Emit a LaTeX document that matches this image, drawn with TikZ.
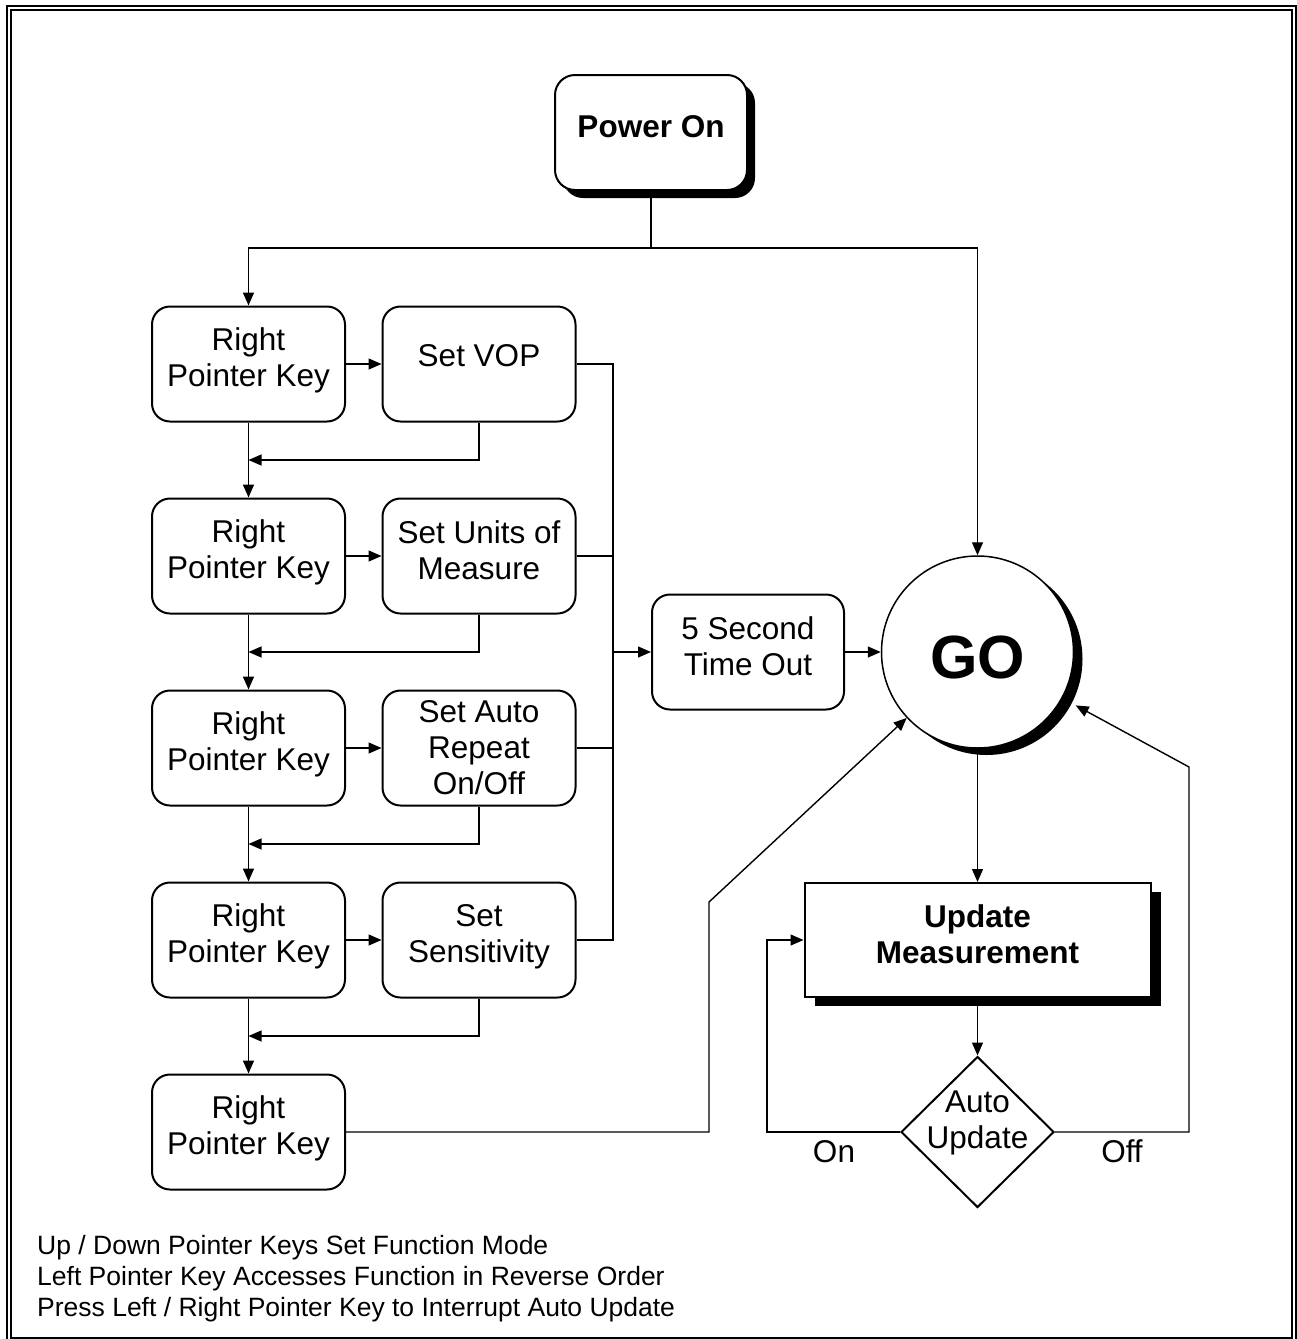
\documentclass[tikz,border=0pt]{standalone}
\usepackage{fontspec}
\setmainfont{Liberation Sans}
\usetikzlibrary{arrows.meta,shapes.geometric,shadows,calc}
\newcommand\bxf{\fontsize{31.5}{36}\selectfont}
\newcommand\ntf{\fontsize{26.5}{31}\selectfont}
\newcommand\gof{\fontsize{61}{70}\selectfont\bfseries}
\begin{document}
\begin{tikzpicture}[x=1pt,y=-1pt,
  conn/.style={line width=1.4pt},
  arr/.style={conn,-{Triangle[length=13pt,width=11pt]}},
  rbox/.style={draw,line width=2pt,rounded corners=18pt,minimum width=193pt,minimum height=115pt,inner sep=0pt,fill=white},
  lbl/.style={font=\bxf,align=center,inner sep=0pt},
  blackshadow/.style={drop shadow={shadow xshift=#1,shadow yshift=-#1,opacity=1,fill=black}},
]
\useasboundingbox (0,0) rectangle (1297,1339);
\draw[line width=2.5pt] (7,6) rectangle (1296,1345);
\draw[line width=2.5pt] (11,10) rectangle (1292,1338);

% Power On
\node[rbox,rounded corners=20pt,minimum width=192pt,blackshadow=8pt] (pwr) at (651,132.5) {};
\node[lbl,font=\bxf\bfseries] (pwrt) at ([yshift=6pt]pwr.center) {Power On};

% GO
\node[circle,draw,line width=1.5pt,minimum size=192pt,inner sep=0pt,fill=white,
      drop shadow={shadow xshift=9pt,shadow yshift=-7pt,opacity=1,fill=black}] (go) at (977.5,652) {};
\node[inner sep=0pt,font=\gof] (got) at ([yshift=-5pt]go.center) {GO};

% left column
\foreach \i/\y in {1/364,2/556,3/748,4/940,5/1132}{
  \node[rbox] (r\i) at (248.5,\y) {};
  \node[lbl] (r\i t) at ([yshift=4pt]r\i.center) {Right\\Pointer Key};
}
\foreach \i/\y in {1/364,2/556,3/748,4/940}{
  \node[rbox] (s\i) at (479,\y) {};
}
\node[lbl] (s1t) at ([yshift=8pt]s1.center) {Set VOP};
\node[lbl] (s2t) at ([yshift=6pt]s2.center) {Set Units of\\Measure};
\node[lbl] (s3t) at ([yshift=0pt]s3.center) {Set Auto\\Repeat\\On/Off};
\node[lbl] (s4t) at ([yshift=3pt]s4.center) {Set\\Sensitivity};

% 5 second
\node[rbox,minimum width=192pt] (t5) at (748,652) {};
\node[lbl] (t5t) at ([yshift=6pt]t5.center) {5 Second\\Time Out};

% update measurement
\node[draw,line width=2pt,minimum width=346pt,minimum height=114pt,inner sep=0pt,fill=white,
      drop shadow={shadow xshift=10pt,shadow yshift=-9pt,opacity=1,fill=black}] (upd) at (977.5,940) {};
\node[lbl,font=\bxf\bfseries] (updt) at ([yshift=6pt]upd.center) {Update\\Measurement};

% diamond
\node[draw,diamond,line width=2pt,minimum width=153pt,minimum height=151pt,inner sep=0pt,fill=white] (dia) at (977.5,1132) {};
\node[lbl] (diat) at ([yshift=9pt]dia.center) {Auto\\Update};

% connectors
\coordinate (j0) at (651,248);
\draw[conn] (pwr.south) -- (j0);
\draw[arr] (j0) -| (r1.north);
\draw[arr] (j0) -| (go.north);

\foreach \i/\j in {1/2,2/3,3/4,4/5}{
  \draw[arr] (r\i.south) -- (r\j.north);
  \draw[arr] (s\i.south) |- ($(r\i.south)!0.5!(r\j.north)$);
}
\foreach \i in {1,2,3,4}{
  \draw[arr] (r\i.east) -- (s\i.west);
}
\coordinate (b1) at (613,364);
\draw[conn] (s1.east) -- (b1) -- (b1 |- s4.east) -- (s4.east);
\draw[conn] (s2.east) -- (s2.east -| b1);
\draw[conn] (s3.east) -- (s3.east -| b1);
\draw[arr] (t5.west -| b1) -- (t5.west);
\draw[arr] (t5.east) -- (go.west);

\coordinate (k1) at (709,1132);
\coordinate (k2) at (709,902);
\draw[arr] (r5.east) -- (k1) -- (k2) -- (go);

\draw[arr] (go.south) -- (upd.north);
\draw[arr] (upd.south) -- (dia.north);

\coordinate (m1) at (767,1132);
\coordinate (m2) at (767,940);
\draw[arr] (dia.west) -- (m1) -- (m2) -- (upd.west);

\coordinate (n1) at (1189,1132);
\coordinate (n2) at (1189,767);
\coordinate (n3) at ($(n2)!129pt!(go.center)$);
\draw[arr] (dia.east) -- (n1) -- (n2) -- (n3);

\node[font=\bxf,anchor=base,inner sep=0pt] (on) at (834,1162) {On};
\node[font=\bxf,anchor=base,inner sep=0pt] (off) at (1122,1162) {Off};

% notes
\node[font=\ntf,anchor=base west,inner sep=0pt] (note1) at (37,1254) {Up / Down Pointer Keys Set Function Mode};
\node[font=\ntf,anchor=base west,inner sep=0pt] (note2) at (37,1285) {Left Pointer Key Accesses Function in Reverse Order};
\node[font=\ntf,anchor=base west,inner sep=0pt] (note3) at (37,1316) {Press Left / Right Pointer Key to Interrupt Auto Update};
\end{tikzpicture}
\end{document}
